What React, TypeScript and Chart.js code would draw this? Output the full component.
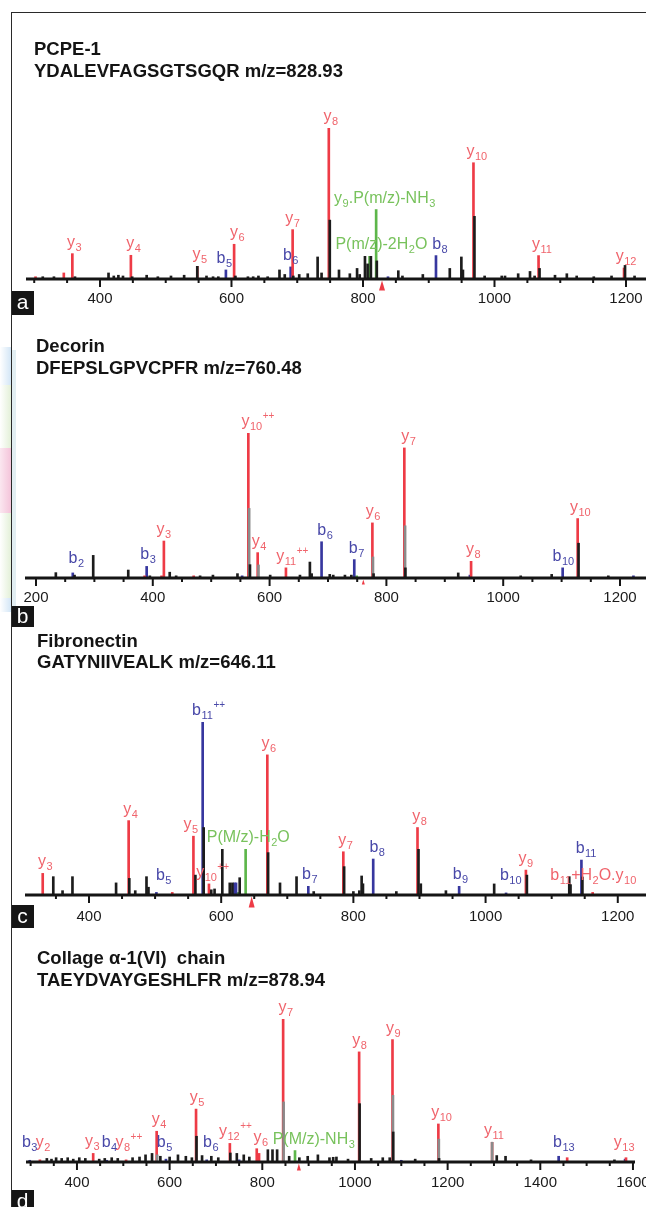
import React, { useEffect, useRef } from 'react';
import { Chart, registerables } from 'chart.js';

Chart.register(...registerables);

type P = [number, number];
type LP = [number, number, string?, number?];

// ---------------- Panel a : PCPE-1 ----------------
const aTitle = ['PCPE-1', 'YDALEVFAGSGTSGQR m/z=828.93'];
const aPrecursor = 828.93;
const aTickLabels = [400, 600, 800, 1000, 1200];
const aRange: P = [287.5, 1230.4];
const aRed: LP[] = [
  [302, 1.5], [345, 4],
  [358, 16.8, 'y_{3}', 361], [447, 15.7, 'y_{4}', 451], [548, 8.4, 'y_{5}', 552],
  [604, 23, 'y_{6}', 609], [693, 32.7, 'y_{7}'], [748, 100, 'y_{8}', 751],
  [968, 77, 'y_{10}', 973], [1067, 15.5, 'y_{11}', 1072], [1197, 7.3, 'y_{12}', 1200],
];
const aBlue: LP[] = [
  [591.5, 6, 'b_{5}', 589], [690, 8, 'b_{6}'], [838, 1.5], [911, 15.5, 'b_{8}', 917],
];
const aGreen: LP[] = [
  [810, 15, 'P(m/z)-2H_{2}O', 828], [820, 46, 'y_{9}.P(m/z)-NH_{3}', 833],
];
const aGray: P[] = [];
const aBlack: P[] = [
  [313, 1.5], [330, 1.5], [362, 1.5], [413, 4], [421, 2], [428, 2.5], [435, 2], [449, 1.5],
  [471, 2.5], [488, 1.5], [508, 2], [528, 2.5], [548, 8.4], [562, 2], [572, 1.5], [580, 1.5],
  [606, 2], [625, 1.5], [633, 1.5], [641, 2], [655, 1.5], [673, 6], [681, 3], [694, 2],
  [703, 3], [716, 3.5], [731, 14.6], [737, 4], [749.5, 39], [763.5, 6], [780, 3.5], [791, 7],
  [795, 3], [803, 15], [807, 10], [812, 15], [821, 12], [853.7, 5.5], [860, 2], [891, 3],
  [932, 7], [949.6, 14.6], [952, 6], [969.5, 41.5], [985, 2], [1011, 2], [1016, 2],
  [1036, 3.5], [1054, 5], [1061, 2], [1068.5, 7], [1092, 2.5], [1110, 3.5], [1125, 2],
  [1151, 1.5], [1178, 2], [1198.5, 9], [1213, 2],
];

// ---------------- Panel b : Decorin ----------------
const bTitle = ['Decorin', 'DFEPSLGPVCPFR m/z=760.48'];
const bPrecursor = 760.48;
const bTickLabels = [200, 400, 600, 800, 1000, 1200];
const bRange: P = [181.2, 1244.5];
const bRed: LP[] = [
  [386, 1.5], [415, 1.5], [419, 25.5, 'y_{3}'], [470, 1.5],
  [563.6, 100, 'y_{10}^{++}', 580], [579.6, 17.5, 'y_{4}', 582], [628, 7, 'y_{11}^{++}', 639],
  [776, 38, 'y_{6}', 777], [830.7, 89.7, 'y_{7}', 838], [945, 11.5, 'y_{8}', 949],
  [1127.5, 41, 'y_{10}', 1132],
];
const bBlue: LP[] = [
  [263, 3.5, 'b_{2}', 269], [389.5, 8, 'b_{3}', 392], [553, 1.5], [689, 25, 'b_{6}', 695],
  [745, 12.7, 'b_{7}', 749], [943, 2], [1101.8, 7, 'b_{10}', 1103], [1223, 1.5],
];
const bGreen: LP[] = [[749, 1.5]];
const bGray: P[] = [[565, 48], [581, 9], [777, 14.5], [832, 36]];
const bBlack: P[] = [
  [234, 3.7], [266, 2], [298, 15.6], [358, 5.5], [395, 1.5], [429, 4], [440, 1.5], [481, 1.5],
  [503, 2], [545, 3], [566.4, 9.2], [601, 2], [652, 2], [669, 11], [672, 3], [703, 2.5],
  [709, 2], [729, 2], [740, 2], [778, 3], [832.5, 7], [923, 3.5], [1030, 1.5], [1083, 2.5],
  [1129, 24], [1180, 1.5],
];

// ---------------- Panel c : Fibronectin ----------------
const cTitle = ['Fibronectin', 'GATYNIIVEALK m/z=646.11'];
const cPrecursor = 646.11;
const cTickLabels = [400, 600, 800, 1000, 1200];
const cRange: P = [303.2, 1242.7];
const cRed: LP[] = [
  [330, 12.5, 'y_{3}', 334], [460, 43, 'y_{4}', 463], [526, 1.5], [558, 34, 'y_{5}', 554],
  [581.5, 6.4, 'y_{10}^{++}', 587], [669.8, 81, 'y_{6}', 672], [784.8, 25, 'y_{7}', 788],
  [897, 39, 'y_{8}', 900], [1061, 14.4, 'y_{9}'], [1162, 1.5, 'b_{11}+H_{2}O.y_{10}', 1163],
];
const cBlue: LP[] = [
  [502, 1.5, 'b_{5}', 513], [572, 100, 'b_{11}^{++}', 581], [620, 7], [622.5, 7],
  [731.8, 5, 'b_{7}', 734], [830, 20.8, 'b_{8}', 836], [960, 5, 'b_{9}', 962],
  [1031, 1.2, 'b_{10}', 1038], [1145, 20.2, 'b_{11}', 1152],
];
const cGreen: LP[] = [[625, 1.5], [637, 26.4, 'P(M/z)-H_{2}O', 641]];
const cGray: P[] = [];
const cBlack: P[] = [
  [346, 10.6], [360, 2.5], [375, 10.6], [441, 7], [461, 9.6], [470, 2.5], [487, 10.6],
  [490, 4.5], [561, 11.5], [573.5, 39], [585, 3], [590, 3.5], [601.7, 26.4], [613, 7],
  [617, 7], [628, 10], [671, 24.5], [689, 7], [714, 10.6], [740, 2], [786, 16.4], [800, 2],
  [809, 2.5], [812.5, 11], [814.5, 6.5], [865, 2], [898.5, 26.4], [902, 6.5], [940, 2.5],
  [1013, 6.4], [1062.5, 11.5], [1126.6, 10.6], [1128.5, 6], [1146.5, 10.4],
];

// ---------------- Panel d : Collagen alpha-1(VI) ----------------
const dTitle = ['Collage \u03B1-1(VI)  chain', 'TAEYDVAYGESHLFR m/z=878.94'];
const dPrecursor = 878.94;
const dTickLabels = [400, 600, 800, 1000, 1200, 1400, 1600];
const dRange: P = [290, 1604.4];
const dRed: LP[] = [
  [320, 1.5, 'y_{2}', 327], [435, 6, 'y_{3}', 433], [506, 1.5, 'y_{8}^{++}', 512],
  [572, 21.5, 'y_{4}', 577], [657, 37, 'y_{5}', 659], [730, 13, 'y_{12}^{++}', 742],
  [788, 9.3, 'y_{6}', 797], [793, 6], [845, 100, 'y_{7}', 851], [1009, 77, 'y_{8}', 1010],
  [1081, 85.6, 'y_{9}', 1083], [1180, 26.6, 'y_{10}', 1187], [1296, 13.8, 'y_{11}', 1300],
  [1458, 3], [1585, 3, 'y_{13}', 1581],
];
const dBlue: LP[] = [
  [298, 1.2, 'b_{3}'], [464, 1.2, 'b_{4}', 470], [592, 2, 'b_{5}', 589], [680, 1.5, 'b_{6}', 689],
  [750, 1.5], [1100, 1.2], [1439.6, 4, 'b_{13}', 1451], [1583, 2],
];
const dGreen: LP[] = [[870.6, 8, 'P(M/z)-NH_{3}', 911]];
const dGray: P[] = [[573, 5], [846, 42], [1082, 46.6], [1181, 16], [1296, 13.8]];
const dBlack: P[] = [
  [335, 2.5], [345, 2], [355, 3], [367, 2.5], [380, 3], [392, 2], [405, 3], [418, 2.5],
  [448, 2], [460, 2.5], [475, 3], [488, 2.5], [520, 3], [535, 3.5], [548, 5], [562, 6],
  [580, 4], [600, 3.5], [618, 5], [635, 4], [648, 3], [658, 18], [670, 4.5], [690, 4],
  [705, 3], [731, 6.3], [745, 6], [760, 5], [772, 3.5], [812, 8.6], [822, 8.6], [832, 8.6],
  [858, 4], [880, 3], [898, 4], [920, 5], [945, 3], [953, 3.3], [960, 3.5], [985, 2],
  [1010, 40.8], [1035, 2.5], [1060, 3], [1075, 3], [1082.5, 21], [1130, 2], [1181.5, 2.5],
  [1306, 4.5], [1325, 4], [1380, 1.5], [1560, 1.5],
];

// ---------------- styling ----------------
const FONT = "'Liberation Sans', Arial, Helvetica, sans-serif";
const RED = '#ee3b46';
const RED_T = '#f0646c';
const BLUE = '#37379f';
const BLUE_T = '#4848a8';
const GREEN = '#5db64a';
const GREEN_T = '#78c25c';
const BLACK = '#1c1c1c';
const GRAY = '#8b8b8b';
const AXIS = '#151515';
const CANVAS_W = 700;

interface PanelCfg {
  title: string[];
  titleLeft: number;
  titleTop: number;
  lineH: number;
  letter: string;
  letterTop: number;
  letterH: number;
  canvasTop: number;
  baseline: number;
  peakTop: number;
  axisLeft: number;
  axisRight: number;
  tickPad: number;
  range: P;
  tickLabels: number[];
  precursor: number;
  tri: [number, number];
  red: LP[];
  blue: LP[];
  green: LP[];
  gray: P[];
  black: P[];
}

const panels: PanelCfg[] = [
  {
    title: aTitle, titleLeft: 34, titleTop: 38, lineH: 21.6, letter: 'a', letterTop: 291, letterH: 24,
    canvasTop: 13, baseline: 279, peakTop: 128, axisLeft: 26, axisRight: 646, tickPad: 11,
    range: aRange, tickLabels: aTickLabels, precursor: aPrecursor, tri: [6, 10],
    red: aRed, blue: aBlue, green: aGreen, gray: aGray, black: aBlack,
  },
  {
    title: bTitle, titleLeft: 36, titleTop: 334.5, lineH: 22.3, letter: 'b', letterTop: 606, letterH: 21,
    canvasTop: 320, baseline: 578, peakTop: 433, axisLeft: 25, axisRight: 646, tickPad: 11,
    range: bRange, tickLabels: bTickLabels, precursor: bPrecursor, tri: [3, 5],
    red: bRed, blue: bBlue, green: bGreen, gray: bGray, black: bBlack,
  },
  {
    title: cTitle, titleLeft: 37, titleTop: 629.5, lineH: 21.7, letter: 'c', letterTop: 905, letterH: 23,
    canvasTop: 630, baseline: 895, peakTop: 722, axisLeft: 25, axisRight: 646, tickPad: 13,
    range: cRange, tickLabels: cTickLabels, precursor: cPrecursor, tri: [6, 11],
    red: cRed, blue: cBlue, green: cGreen, gray: cGray, black: cBlack,
  },
  {
    title: dTitle, titleLeft: 37, titleTop: 947, lineH: 21.7, letter: 'd', letterTop: 1190, letterH: 24,
    canvasTop: 940, baseline: 1162, peakTop: 1019, axisLeft: 26, axisRight: 635, tickPad: 12,
    range: dRange, tickLabels: dTickLabels, precursor: dPrecursor, tri: [4, 7],
    red: dRed, blue: dBlue, green: dGreen, gray: dGray, black: dBlack,
  },
];

function parseLabel(s: string) {
  const out: { t: string; k: 'n' | 'sub' | 'sup' }[] = [];
  const re = /_\{([^}]*)\}|\^\{([^}]*)\}|([^_^]+)/g;
  let m: RegExpExecArray | null;
  while ((m = re.exec(s))) {
    if (m[1] !== undefined) out.push({ t: m[1], k: 'sub' });
    else if (m[2] !== undefined) out.push({ t: m[2], k: 'sup' });
    else out.push({ t: m[3], k: 'n' });
  }
  return out;
}

function fontFor(k: string) {
  if (k === 'sub') return `11px ${FONT}`;
  if (k === 'sup') return `10px ${FONT}`;
  return `16px ${FONT}`;
}

function makeDecor(cfg: PanelCfg) {
  return {
    id: 'spectrumDecor',
    afterDatasetsDraw(chart: any) {
      const ctx: CanvasRenderingContext2D = chart.ctx;
      const x = chart.scales.x;
      const y = chart.scales.y;
      const area = chart.chartArea;
      const y0 = y.getPixelForValue(0);
      ctx.save();
      // axis baseline
      ctx.strokeStyle = AXIS;
      ctx.lineWidth = 3;
      ctx.beginPath();
      ctx.moveTo(area.left, y0);
      ctx.lineTo(area.right, y0);
      ctx.stroke();
      // tick marks
      ctx.lineWidth = 2;
      for (const t of x.ticks) {
        const px = x.getPixelForValue(t.value);
        const major = cfg.tickLabels.includes(t.value);
        ctx.beginPath();
        ctx.moveTo(px, y0);
        ctx.lineTo(px, y0 + (major ? 8 : 4));
        ctx.stroke();
      }
      // precursor marker
      const pp = x.getPixelForValue(cfg.precursor);
      ctx.fillStyle = RED;
      ctx.beginPath();
      ctx.moveTo(pp, y0 + 1.5);
      ctx.lineTo(pp + cfg.tri[0] / 2, y0 + 1.5 + cfg.tri[1]);
      ctx.lineTo(pp - cfg.tri[0] / 2, y0 + 1.5 + cfg.tri[1]);
      ctx.closePath();
      ctx.fill();
      // peak labels
      const groups: [LP[], string][] = [[cfg.red, RED_T], [cfg.blue, BLUE_T], [cfg.green, GREEN_T]];
      ctx.textAlign = 'left';
      ctx.textBaseline = 'alphabetic';
      for (const [data, color] of groups) {
        ctx.fillStyle = color;
        for (const pk of data) {
          const [mz, inten, lab, lmz] = pk;
          if (!lab) continue;
          const top = y.getPixelForValue(inten);
          const base = Math.min(top - 7, y0 - 15);
          const cx = x.getPixelForValue(lmz ?? mz);
          const segs = parseLabel(lab);
          const ws: number[] = [];
          let total = 0;
          for (const s of segs) {
            ctx.font = fontFor(s.k);
            const w = ctx.measureText(s.t).width + (s.k !== 'n' ? 0.5 : 0);
            ws.push(w);
            total += w;
          }
          let cur = cx - total / 2;
          segs.forEach((s, i) => {
            ctx.font = fontFor(s.k);
            const dy = s.k === 'sub' ? 4 : s.k === 'sup' ? -7 : 0;
            ctx.fillText(s.t, cur + (s.k !== 'n' ? 0.5 : 0), base + dy);
            cur += ws[i];
          });
        }
      }
      ctx.restore();
    },
  };
}

function Panel({ cfg }: { cfg: PanelCfg }) {
  const ref = useRef<HTMLCanvasElement>(null);
  const canvasH = cfg.baseline - cfg.canvasTop + 18 + 2 * cfg.tickPad;
  useEffect(() => {
    if (!ref.current) return;
    const tickVals: number[] = [];
    for (let v = Math.ceil(cfg.range[0] / 50) * 50; v <= cfg.range[1]; v += 50) tickVals.push(v);
    const ds = (arr: (P | LP)[], color: string, order: number) => ({
      type: 'bar' as const,
      data: arr.map((p) => ({ x: p[0], y: p[1] })),
      backgroundColor: color,
      borderWidth: 0,
      barThickness: 2,
      stack: 'all',
      order,
    });
    const chart = new Chart(ref.current, {
      type: 'bar',
      data: {
        datasets: [
          ds(cfg.black, BLACK, 0),
          ds(cfg.gray, GRAY, 1),
          ds(cfg.red, RED, 2),
          ds(cfg.blue, BLUE, 3),
          ds(cfg.green, GREEN, 4),
        ] as any,
      },
      options: {
        responsive: false,
        animation: false,
        events: [],
        layout: {
          padding: {
            top: cfg.peakTop - cfg.canvasTop,
            left: cfg.axisLeft,
            right: CANVAS_W - cfg.axisRight,
            bottom: 0,
          },
        },
        plugins: {
          legend: { display: false },
          tooltip: { enabled: false },
          title: { display: false },
        },
        scales: {
          x: {
            type: 'linear',
            min: cfg.range[0],
            max: cfg.range[1],
            offset: false,
            afterBuildTicks: (axis: any) => {
              axis.ticks = tickVals.map((v) => ({ value: v }));
            },
            grid: { display: false, drawTicks: false },
            border: { display: false },
            ticks: {
              autoSkip: false,
              maxRotation: 0,
              minRotation: 0,
              padding: cfg.tickPad,
              color: '#1a1a1a',
              font: { family: FONT, size: 15 },
              callback: (v: any) => (cfg.tickLabels.includes(Number(v)) ? String(v) : ''),
            },
          },
          y: { display: false, min: 0, max: 100, stacked: false },
        },
      } as any,
      plugins: [makeDecor(cfg)],
    });
    return () => chart.destroy();
  }, []);
  return (
    <>
      <canvas
        ref={ref}
        width={CANVAS_W}
        height={canvasH}
        style={{ position: 'absolute', left: 0, top: cfg.canvasTop, width: CANVAS_W, height: canvasH }}
      />
      <div
        style={{
          position: 'absolute', left: cfg.titleLeft, top: cfg.titleTop, font: `bold 18.5px ${FONT}`,
          lineHeight: `${cfg.lineH}px`, color: '#141414', whiteSpace: 'pre',
        }}
      >
        {cfg.title.map((t, i) => (
          <div key={i}>{t}</div>
        ))}
      </div>
      <div
        style={{
          position: 'absolute', left: 11, top: cfg.letterTop, width: 23, height: cfg.letterH,
          background: '#151515', color: '#fff', font: `21px ${FONT}`, lineHeight: `${cfg.letterH - 2}px`,
          textAlign: 'center',
        }}
      >
        {cfg.letter}
      </div>
    </>
  );
}

export default function App() {
  return (
    <div
      style={{
        position: 'absolute', left: 0, top: 0, width: 646, height: 1207, overflow: 'hidden',
        background: '#fff',
      }}
    >
      {/* faint colour strip at the left edge next to panel b */}
      <div style={{ position: 'absolute', left: 0, top: 347, width: 11, height: 38, background: 'linear-gradient(to right, #ffffff, #d3e6f6)' }} />
      <div style={{ position: 'absolute', left: 0, top: 385, width: 11, height: 63, background: 'linear-gradient(to right, #ffffff, #e3f0d8)' }} />
      <div style={{ position: 'absolute', left: 0, top: 448, width: 11, height: 65, background: 'linear-gradient(to right, #fbe7f0, #f4c4da)' }} />
      <div style={{ position: 'absolute', left: 0, top: 513, width: 11, height: 85, background: 'linear-gradient(to right, #ffffff, #e3f0d8)' }} />
      <div style={{ position: 'absolute', left: 0, top: 598, width: 11, height: 14, background: 'linear-gradient(to right, #ffffff, #d3e6f6)' }} />
      <div style={{ position: 'absolute', left: 12, top: 350, width: 4, height: 256, background: '#e2eef2' }} />
      {panels.map((p, i) => (
        <Panel key={i} cfg={p} />
      ))}
      {/* frame */}
      <div style={{ position: 'absolute', left: 11, top: 12, width: 640, height: 1, background: '#2a2a2a' }} />
      <div style={{ position: 'absolute', left: 11, top: 12, width: 1, height: 1200, background: '#2a2a2a' }} />
    </div>
  );
}
